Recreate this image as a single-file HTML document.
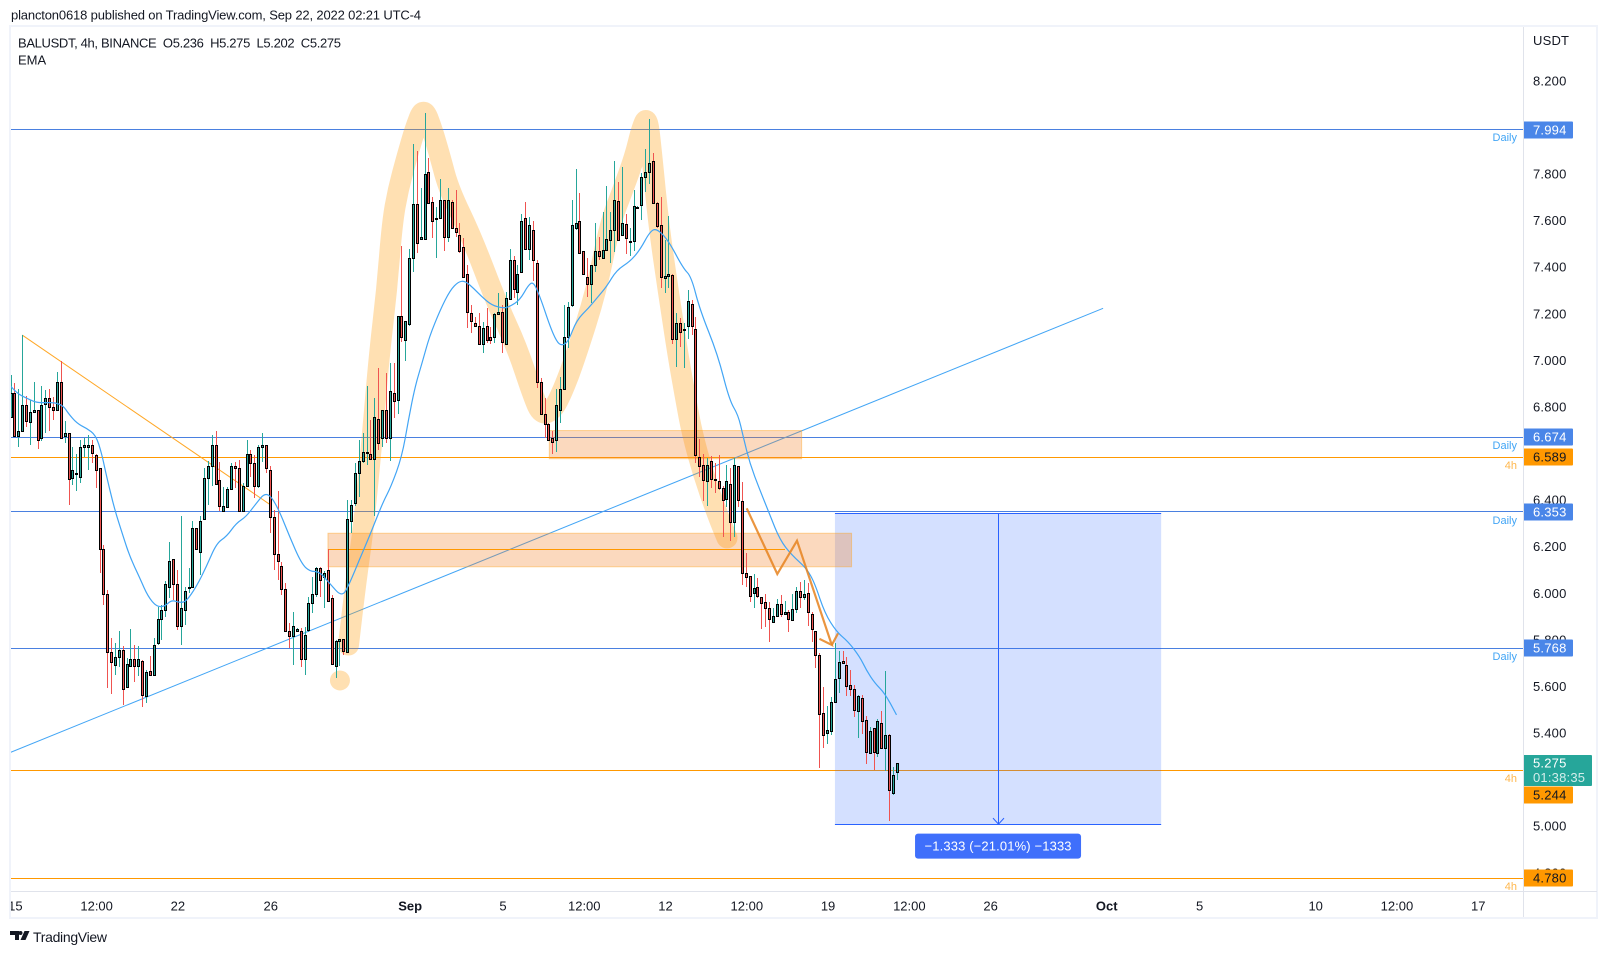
<!DOCTYPE html>
<html lang="en">
<head>
<meta charset="utf-8">
<title>BALUSDT 4h chart</title>
<style>
html,body{margin:0;padding:0;background:#fff;width:1607px;height:954px;overflow:hidden}
svg{position:absolute;left:0;top:0;display:block}
text{font-family:"Liberation Sans",sans-serif;font-size:13px}
#price-axis text{letter-spacing:0.2px}
</style>
</head>
<body>
<svg id="chart" xmlns="http://www.w3.org/2000/svg" width="1607" height="954" viewBox="0 0 1607 954">
  <defs>
    <clipPath id="plot-clip"><rect x="11" y="27" width="1512" height="864"></rect></clipPath>
    <clipPath id="time-clip"><rect x="11" y="892" width="1512" height="25"></rect></clipPath>
  </defs>
  <text x="11" y="19.5" fill="#131722" textLength="410" lengthAdjust="spacing">plancton0618 published on TradingView.com, Sep 22, 2022 02:21 UTC-4</text>
  <rect x="10" y="26" width="1587" height="892" fill="#fff" stroke="#f0f3fa" stroke-width="2"></rect>
  <g id="plot" clip-path="url(#plot-clip)"></g>
  <g id="time-axis" clip-path="url(#time-clip)"></g>
  <g id="price-axis"></g>
  <text x="18" y="47.5" fill="#131722" textLength="323" lengthAdjust="spacing">BALUSDT, 4h, BINANCE&#160;&#160;O5.236&#160;&#160;H5.275&#160;&#160;L5.202&#160;&#160;C5.275</text>
  <text x="18" y="64.5" fill="#131722">EMA</text>
  <g>
    <path fill="#131722" d="M10 931h9v9h-4v-5h-5zM20.5 931a2 2 0 1 1 0 4 2 2 0 0 1 0-4zM24.5 931h5l-4 9h-5z"></path>
    <text x="33" y="942" fill="#131722" style="font-size:14px" textLength="74" lengthAdjust="spacing">TradingView</text>
  </g>
</svg>
<script>
const opens = [
6.760,6.863,6.681,6.699,6.812,6.741,6.782,6.790,6.670,6.817,
6.842,6.803,6.790,6.910,6.681,6.691,6.501,6.520,6.502,6.631,
6.631,6.640,6.600,6.541,6.193,6.000,5.751,5.698,5.730,5.760,
5.600,5.691,5.721,5.690,5.713,5.564,5.670,5.652,5.790,5.893,
5.932,6.030,6.150,6.043,5.863,5.932,6.030,6.030,6.284,6.180,
6.322,6.501,6.550,6.640,6.492,6.359,6.374,6.451,6.550,6.541,
6.359,6.464,6.601,6.563,6.464,6.631,6.640,6.533,6.331,6.172,
6.120,6.022,5.841,5.820,5.841,5.841,5.721,5.847,5.962,6.000,
6.112,6.073,6.103,5.983,5.690,5.801,5.810,5.750,6.314,6.391,
6.520,6.571,6.610,6.601,6.580,6.751,6.670,6.790,6.670,6.863,
6.833,7.193,7.090,7.162,7.442,7.674,7.524,7.524,7.812,7.683,
7.614,7.614,7.691,7.532,7.683,7.571,7.541,7.492,7.374,7.209,
7.163,7.150,7.073,7.150,7.103,7.103,7.202,7.211,7.073,7.269,
7.434,7.299,7.382,7.614,7.481,7.563,7.421,6.910,6.773,6.730,
6.670,6.661,6.790,6.880,7.103,7.241,7.571,7.601,7.472,7.361,
7.331,7.412,7.472,7.442,7.477,7.520,7.563,7.687,7.541,7.588,
7.515,7.515,7.661,7.670,7.790,7.812,7.859,7.678,7.584,7.357,
7.365,7.369,7.095,7.163,7.138,7.150,7.245,7.138,6.591,6.556,
6.485,6.571,6.493,6.485,6.455,6.408,6.472,6.309,6.549,6.399,
6.090,6.077,6.004,6.030,5.987,5.965,5.940,5.879,5.905,5.957,
5.914,5.922,5.888,5.935,6.013,5.987,6.004,5.914,5.841,5.738,
5.489,5.403,5.412,5.539,5.639,5.712,5.695,5.609,5.592,5.497,
5.553,5.459,5.317,5.424,5.317,5.446,5.339,5.394,5.145,5.236];
const highs = [
6.942,6.906,6.880,7.114,6.852,6.834,6.913,6.790,6.895,6.875,
6.880,6.849,6.956,7.002,6.746,6.691,6.634,6.603,6.663,6.670,
6.684,6.663,6.603,6.541,6.212,6.019,5.811,5.790,5.843,5.776,
5.725,5.851,5.783,5.776,5.718,5.675,5.733,5.811,5.947,5.954,
6.055,6.225,6.150,6.105,6.334,6.033,6.112,6.315,6.284,6.334,
6.541,6.574,6.684,6.701,6.570,6.460,6.462,6.563,6.570,6.577,
6.477,6.663,6.620,6.598,6.641,6.691,6.640,6.551,6.362,6.444,
6.140,6.047,5.876,5.926,5.854,5.854,5.861,5.990,6.076,6.119,
6.119,6.098,6.193,5.997,5.804,5.810,5.810,6.405,6.405,6.563,
6.663,6.691,6.895,6.749,6.842,6.970,6.792,6.949,6.992,6.992,
7.193,7.495,7.172,7.481,7.932,7.903,7.743,8.065,7.872,7.704,
7.661,7.782,7.691,7.743,7.691,7.736,7.593,7.528,7.414,7.242,
7.192,7.206,7.170,7.228,7.149,7.206,7.292,7.242,7.299,7.482,
7.452,7.414,7.633,7.683,7.621,7.603,7.435,6.927,6.841,6.734,
6.703,6.881,6.931,7.242,7.256,7.693,7.824,7.721,7.472,7.442,
7.414,7.593,7.535,7.643,7.753,7.643,7.860,7.771,7.833,7.633,
7.571,7.736,7.666,7.807,7.910,8.041,7.893,7.686,7.707,7.521,
7.624,7.374,7.206,7.185,7.163,7.306,7.264,7.192,6.667,6.602,
6.585,6.594,6.562,6.598,6.465,6.555,6.541,6.584,6.549,6.481,
6.176,6.077,6.087,6.068,5.990,6.000,5.968,5.940,5.978,5.997,
5.971,5.932,6.000,6.030,6.054,6.060,6.047,5.925,5.844,5.746,
5.600,5.520,5.558,5.789,5.756,5.756,5.732,5.675,5.611,5.568,
5.568,5.477,5.432,5.424,5.463,5.499,5.671,5.399,5.260,5.275];
const lows = [
6.756,6.677,6.634,6.699,6.720,6.641,6.777,6.624,6.656,6.691,
6.701,6.749,6.790,6.670,6.648,6.384,6.470,6.445,6.477,6.591,
6.534,6.563,6.455,6.093,5.954,5.597,5.572,5.654,5.687,5.525,
5.597,5.687,5.625,5.647,5.518,5.532,5.647,5.647,5.783,5.804,
5.904,5.983,5.976,5.847,5.783,5.869,6.005,6.026,6.191,6.083,
6.319,6.384,6.465,6.472,6.358,6.358,6.369,6.451,6.455,6.355,
6.355,6.462,6.505,6.412,6.455,6.570,6.520,6.262,6.105,6.062,
5.997,5.840,5.768,5.697,5.840,5.687,5.654,5.840,5.919,5.990,
5.990,5.940,5.969,5.701,5.640,5.690,5.740,5.747,6.262,6.379,
6.419,6.563,6.555,6.577,6.334,6.620,6.634,6.648,6.574,6.755,
6.774,7.085,7.003,7.152,7.385,7.467,7.524,7.524,7.681,7.528,
7.445,7.614,7.475,7.514,7.571,7.535,7.467,7.357,7.145,7.120,
7.146,7.070,7.035,7.077,7.075,7.077,7.199,7.035,7.070,7.266,
7.271,7.242,7.378,7.478,7.435,7.345,6.884,6.770,6.670,6.660,
6.602,6.612,6.734,6.877,7.056,7.235,7.564,7.464,7.374,7.275,
7.249,7.385,7.435,7.441,7.475,7.424,7.471,7.521,7.538,7.461,
7.454,7.475,7.655,7.607,7.729,7.761,7.678,7.571,7.314,7.292,
7.314,7.075,6.977,7.063,6.970,7.095,7.113,6.562,6.505,6.402,
6.380,6.455,6.433,6.448,6.247,6.376,6.230,6.247,6.376,6.040,
6.033,5.968,5.942,5.983,5.851,5.861,5.797,5.875,5.904,5.904,
5.911,5.839,5.887,5.918,5.940,5.975,5.864,5.797,5.685,5.256,
5.339,5.357,5.396,5.539,5.578,5.704,5.565,5.563,5.475,5.384,
5.399,5.270,5.314,5.246,5.300,5.339,5.240,5.028,5.140,5.202];
const closes = [
6.863,6.681,6.699,6.812,6.743,6.782,6.790,6.661,6.812,6.842,
6.803,6.790,6.910,6.670,6.691,6.494,6.533,6.520,6.631,6.640,
6.640,6.608,6.533,6.193,6.000,5.751,5.711,5.730,5.760,5.592,
5.700,5.721,5.691,5.721,5.568,5.668,5.652,5.781,5.893,5.932,
6.043,6.142,6.043,5.863,5.940,6.012,6.030,6.284,6.193,6.314,
6.501,6.550,6.640,6.472,6.381,6.381,6.451,6.550,6.541,6.358,
6.464,6.601,6.563,6.464,6.631,6.640,6.541,6.331,6.172,6.142,
6.022,5.841,5.820,5.863,5.850,5.721,5.824,5.962,6.000,6.112,
6.060,6.090,5.969,5.701,5.801,5.810,5.758,6.322,6.382,6.520,
6.571,6.610,6.610,6.580,6.760,6.648,6.790,6.670,6.872,6.831,
7.193,7.103,7.172,7.442,7.674,7.510,7.532,7.803,7.681,7.601,
7.614,7.691,7.532,7.691,7.571,7.554,7.472,7.361,7.211,7.172,
7.150,7.073,7.142,7.090,7.090,7.202,7.211,7.082,7.271,7.434,
7.311,7.374,7.601,7.481,7.584,7.434,6.910,6.773,6.730,6.663,
6.653,6.811,6.880,7.103,7.232,7.584,7.593,7.464,7.374,7.331,
7.412,7.472,7.451,7.477,7.524,7.563,7.691,7.522,7.593,7.528,
7.515,7.666,7.661,7.790,7.812,7.850,7.678,7.580,7.361,7.365,
7.374,7.095,7.163,7.125,7.138,7.258,7.150,6.596,6.549,6.489,
6.556,6.493,6.492,6.455,6.403,6.485,6.309,6.554,6.403,6.090,
6.073,5.991,6.026,5.991,5.961,5.940,5.892,5.905,5.957,5.914,
5.922,5.892,5.935,6.013,5.987,6.000,5.922,5.849,5.738,5.485,
5.394,5.416,5.536,5.635,5.708,5.704,5.605,5.592,5.502,5.562,
5.455,5.321,5.412,5.321,5.455,5.339,5.394,5.158,5.223,5.275];

const emaBars = [0,1.5,4,6.6,9.2,11.4,13.5,14.8,17,19.5,21.9,23.4,24.7,26.8,29,30.7,33.3,35.4,37.6,39.7,41.5,43.6,45.3,47.9,50.5,53.1,55.7,58.2,60.8,63.4,65.5,67.3,69.4,72,75,77.2,79.7,82.3,85.6,87.5,90,92.6,96,98.2,101,102.7,104.4,106.2,108.1,110.9,113.5,115.6,117.3,119.5,122.1,124.2,127,128.9,131.5,133.7,135,136.7,139.3,141,142.3,144,146.2,149.2,151.7,153.9,156.5,159.9,162.5,165.1,166.8,169.8,173.7,175.8,178,182.6,185.6,187.9,189.2,190.9,193.5,196.1,198.7,201.7,205.6,207.7,210.3,213.3,216.3,219.3,221,223.2,225.8,228.8];
const emaValues = [6.892,6.863,6.842,6.823,6.823,6.823,6.809,6.777,6.734,6.713,6.684,6.606,6.505,6.362,6.248,6.162,6.069,5.990,5.947,5.947,5.976,5.964,5.969,6.033,6.119,6.219,6.248,6.305,6.334,6.391,6.434,6.419,6.355,6.248,6.133,6.098,6.098,6.047,5.986,6.047,6.148,6.248,6.391,6.462,6.591,6.748,6.891,6.992,7.106,7.221,7.306,7.342,7.346,7.314,7.271,7.242,7.228,7.235,7.264,7.328,7.342,7.278,7.149,7.085,7.067,7.085,7.178,7.228,7.278,7.321,7.392,7.428,7.478,7.557,7.571,7.521,7.399,7.364,7.221,7.030,6.834,6.770,6.677,6.562,6.448,6.340,6.233,6.169,6.111,6.047,5.918,5.839,5.797,5.732,5.675,5.618,5.575,5.482];

const priceTicks = [8.2,8.0,7.8,7.6,7.4,7.2,7.0,6.8,6.6,6.4,6.2,6.0,5.8,5.6,5.4,5.2,5.0,4.8];
const timeLabels = ['15','12:00','22','26','Sep','5','12:00','12','12:00','19','12:00','26','Oct','5','10','12:00','17'];
const timeBars = [1,22,43,67,103,127,148,169,190,211,232,253,283,307,337,358,379];
const majorTimeLabels = ['Sep','Oct'];

const levelPrices = [7.994,6.674,6.589,6.353,5.768,5.244,4.780];
const levelTags = ['Daily','Daily','4h','Daily','Daily','4h','4h'];

const highlightBars = [87.2,88.6,91,92.9,95.1,97.1,98.5,100,102.3,104.4,106.6,108.8,110.9,113.2,119,125.5,130.7,135,137.1,140.1,142.7,145.9,151.3,154.8,158.1,161.2,163,164.5,165.7,167.3,169.8,172.4,174.4,176,178.8,182.4,185];
const highlightPrices = [5.782,5.988,6.276,6.589,7.019,7.306,7.594,7.736,7.878,7.998,8.094,7.998,7.878,7.736,7.535,7.251,7.063,6.848,6.770,6.791,6.877,7.020,7.306,7.594,7.736,7.879,8.002,8.055,7.865,7.594,7.306,7.020,6.834,6.692,6.521,6.349,6.242];
const zigzagBars = [190.1,198,203.1,212.1,208.9];
const zigzagPrices = [6.369,6.087,6.230,5.782,5.809];
const zigzagTickBars = [212.1,213.7];
const zigzagTickPrices = [5.782,5.832];
const resistanceTrendBars = [2.9,66.7];
const resistanceTrendPrices = [7.113,6.388];
const supportTrendBars = [-0.26,282.2];
const supportTrendPrices = [5.320,7.228];
const zoneBarsA = [139.1,204.3];
const zonePricesA = [6.703,6.582];
const zoneBarsB = [81.9,217.2];
const zonePricesB = [6.262,6.118];
const zoneMidBars = [81.9,200];
const zoneMidPrice = [6.193];
const dotBars = [85];
const dotPrices = [5.63];
const projectionBars = [212.9,297.2];
const projectionPrices = [6.346,5.013];
const projectionLabel = ['\u22121.333 (\u221221.01%) \u22121333'];
const lastPrice = [5.275];
const countdown = ['01:38:35'];

const NS = 'http://www.w3.org/2000/svg';
const X = b => 11 + b * 3.87;
const Y = p => 437.3 + (6.674 - p) * 232.9;
const plot = document.getElementById('plot');
const timeAxis = document.getElementById('time-axis');
const priceAxis = document.getElementById('price-axis');
const svgRoot = document.getElementById('chart');

function mk(tag, attrs, parent) {
  const n = document.createElementNS(NS, tag);
  for (const k in attrs) n.setAttribute(k, attrs[k]);
  parent.appendChild(n);
  return n;
}
const snap = v => Math.floor(v) + 0.5;
const pts = (bs, ps) => bs.map((b, i) => X(b).toFixed(1) + ',' + Y(ps[i]).toFixed(1)).join(' ');
function smoothPath(bs, ps) {
  let d = 'M' + X(bs[0]).toFixed(1) + ' ' + Y(ps[0]).toFixed(1);
  for (let i = 1; i < bs.length - 1; i++) {
    const mx = (X(bs[i]) + X(bs[i + 1])) / 2;
    const my = (Y(ps[i]) + Y(ps[i + 1])) / 2;
    d += ' Q' + X(bs[i]).toFixed(1) + ' ' + Y(ps[i]).toFixed(1) + ' ' + mx.toFixed(1) + ' ' + my.toFixed(1);
  }
  d += ' L' + X(bs[bs.length - 1]).toFixed(1) + ' ' + Y(ps[ps.length - 1]).toFixed(1);
  return d;
}

/* horizontal levels */
levelPrices.forEach((p, i) => {
  const col = levelTags[i] === 'Daily' ? '#4a80e0' : '#ff9800';
  const ly = snap(Y(p) - 0.08);
  const el = mk('line', {x1: 11, x2: 1523, y1: ly, y2: ly, stroke: col, 'stroke-width': 1, 'shape-rendering': 'crispEdges'}, plot);
  
  
});

/* short projection */
let el = mk('rect', {x: X(projectionBars[0]), y: Y(projectionPrices[0]), width: X(projectionBars[1]) - X(projectionBars[0]), height: Y(projectionPrices[1]) - Y(projectionPrices[0]), fill: 'rgba(41,98,255,0.2)'}, plot);


el = mk('line', {x1: X(projectionBars[0]), x2: X(projectionBars[1]), y1: snap(Y(projectionPrices[0])), y2: snap(Y(projectionPrices[0])), stroke: '#2962ff', 'stroke-width': 1}, plot);


el = mk('line', {x1: X(projectionBars[0]), x2: X(projectionBars[1]), y1: snap(Y(projectionPrices[1])), y2: snap(Y(projectionPrices[1])), stroke: '#2962ff', 'stroke-width': 1}, plot);


const arrowX = snap((X(projectionBars[0]) + X(projectionBars[1])) / 2);
el = mk('line', {x1: arrowX, x2: arrowX, y1: Y(projectionPrices[0]), y2: Y(projectionPrices[1]), stroke: '#2962ff', 'stroke-width': 1}, plot);


const tipY = Y(projectionPrices[1]);
el = mk('polyline', {points: (arrowX - 5.5) + ',' + (tipY - 6) + ' ' + arrowX + ',' + tipY + ' ' + (arrowX + 5.5) + ',' + (tipY - 6), fill: 'none', stroke: '#2962ff', 'stroke-width': 1}, plot);



/* trend lines */
el = mk('polyline', {points: pts(supportTrendBars, supportTrendPrices), fill: 'none', stroke: '#42a5f5', 'stroke-width': 1}, plot);


el = mk('polyline', {points: pts(resistanceTrendBars, resistanceTrendPrices), fill: 'none', stroke: '#ffa726', 'stroke-width': 1}, plot);



/* supply zones */
function zone(bs, ps) {
  return {x: X(bs[0]), y: Y(ps[0]), width: X(bs[1]) - X(bs[0]), height: Y(ps[1]) - Y(ps[0]), fill: 'rgba(242,130,40,0.3)', stroke: 'rgba(255,167,38,0.45)', 'stroke-width': 1};
}
el = mk('rect', zone(zoneBarsA, zonePricesA), plot);


el = mk('rect', zone(zoneBarsB, zonePricesB), plot);


el = mk('line', {x1: X(zoneMidBars[0]), x2: X(zoneMidBars[1]), y1: snap(Y(zoneMidPrice[0])), y2: snap(Y(zoneMidPrice[0])), stroke: '#ff9800', 'stroke-width': 1}, plot);



/* highlighter */
el = mk('path', {d: smoothPath(highlightBars, highlightPrices), fill: 'none', stroke: 'rgba(255,152,0,0.3)', 'stroke-width': 21, 'stroke-linecap': 'round', 'stroke-linejoin': 'round'}, plot);


el = mk('circle', {cx: X(dotBars[0]), cy: Y(dotPrices[0]), r: 10, fill: 'rgba(255,152,0,0.3)'}, plot);



/* candles */
closes.forEach((c, i) => {
  const o = opens[i];
  const up = c >= o;
  const col = Math.floor(X(i));
  const top = Math.round(Y(Math.max(o, c)));
  const bot = Math.round(Y(Math.min(o, c)));
  const g = mk('g', {}, plot);
  
  
  const wick = mk('rect', {x: col, y: Math.round(Y(highs[i])), width: 1, height: Math.max(1, Math.round(Y(lows[i])) - Math.round(Y(highs[i]))), fill: up ? '#26a69a' : '#ef5350', 'shape-rendering': 'crispEdges'}, g);
  
  
  const body = mk('rect', {x: col - 0.5, y: top + 0.5, width: 2, height: Math.max(1, bot - top), fill: up ? '#26a69a' : '#ef5350', stroke: '#000', 'stroke-width': 1, 'shape-rendering': 'crispEdges'}, g);
  
  
});

/* EMA */
el = mk('path', {d: smoothPath(emaBars, emaValues), fill: 'none', stroke: '#42a5f5', 'stroke-width': 1.2, 'stroke-linejoin': 'round'}, plot);



/* zigzag */
el = mk('polyline', {points: pts(zigzagBars, zigzagPrices), fill: 'none', stroke: 'rgba(230,130,30,0.85)', 'stroke-width': 2.2, 'stroke-linejoin': 'miter'}, plot);


el = mk('polyline', {points: pts(zigzagTickBars, zigzagTickPrices), fill: 'none', stroke: 'rgba(230,130,30,0.85)', 'stroke-width': 2.2}, plot);



/* level captions */
levelPrices.forEach((p, i) => {
  const daily = levelTags[i] === 'Daily';
  const t = mk('text', {x: 1517, y: snap(Y(p)) + 11.5, 'text-anchor': 'end', fill: daily ? '#42a5f5' : '#ffb74d', style: 'font-size:11px'}, plot);
  t.textContent = levelTags[i];
  
  
});

/* projection label */
const lblX = X((projectionBars[0] + projectionBars[1]) / 2);
el = mk('rect', {x: lblX - 83, y: Y(projectionPrices[1]) + 9.5, width: 166, height: 25, rx: 3, fill: '#3f6ffb'}, plot);


el = mk('text', {x: lblX - 73.5, y: Y(projectionPrices[1]) + 26.5, fill: '#fff', textLength: 147, lengthAdjust: 'spacing'}, plot);
el.textContent = projectionLabel[0];



/* axes */
el = mk('line', {x1: 11, x2: 1597, y1: 891.5, y2: 891.5, stroke: '#e0e3eb', 'stroke-width': 1}, svgRoot);


el = mk('line', {x1: 1523.5, x2: 1523.5, y1: 27, y2: 917, stroke: '#e0e3eb', 'stroke-width': 1}, svgRoot);



timeLabels.forEach((lab, i) => {
  const major = majorTimeLabels.indexOf(lab) >= 0;
  const t = mk('text', {x: X(timeBars[i]) + 0.5, y: 910.5, 'text-anchor': 'middle', fill: '#131722', 'font-weight': major ? 'bold' : 'normal'}, timeAxis);
  t.textContent = lab;
  
  
});

el = mk('text', {x: 1533, y: 45, fill: '#131722'}, priceAxis);
el.textContent = 'USDT';



priceTicks.forEach(p => {
  const t = mk('text', {x: 1533, y: Y(p) + 3.5, fill: '#131722'}, priceAxis);
  t.textContent = p.toFixed(3);
  
  
});

const tagCenter = p => p === 5.244 ? 794.5 : Y(p);
levelPrices.forEach((p, i) => {
  const daily = levelTags[i] === 'Daily';
  const cy = Math.round(tagCenter(p));
  const r = mk('rect', {x: 1523, y: cy - 8.5, width: 50, height: 17, rx: 1, fill: daily ? '#4a86e8' : '#ff9800'}, priceAxis);
  
  
  const t = mk('text', {x: 1533, y: cy + 4.5, fill: daily ? '#fff' : '#131722'}, priceAxis);
  t.textContent = p.toFixed(3);
  
  
});

el = mk('rect', {x: 1523, y: 755, width: 69, height: 31, rx: 1, fill: '#26a69a'}, priceAxis);


el = mk('text', {x: 1533, y: Y(lastPrice[0]) + 4.5, fill: '#fff'}, priceAxis);
el.textContent = lastPrice[0].toFixed(3);


el = mk('text', {x: 1533, y: 782, fill: 'rgba(255,255,255,0.8)'}, priceAxis);
el.textContent = countdown[0];


</script>
</body>
</html>
